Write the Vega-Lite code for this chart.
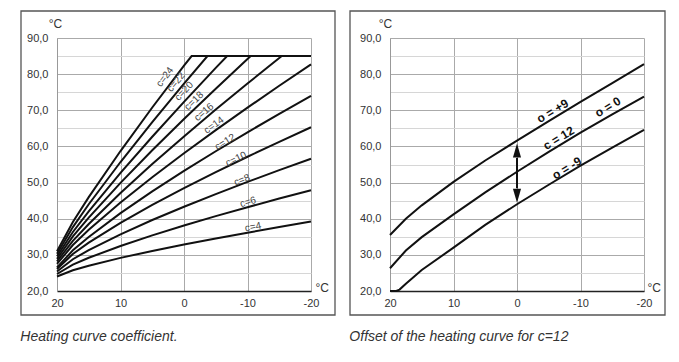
{
  "$schema": "https://vega.github.io/schema/vega-lite/v6.json",
  "padding": {"left": 20, "top": 10, "right": 5, "bottom": 5},
  "spacing": 13,
  "config": {
    "font": "Liberation Sans",
    "view": {"stroke": null},
    "axis": {"labelFont": "Liberation Sans", "titleFont": "Liberation Sans"}
  },
  "datasets": {
    "frame": [{"x1": 20, "x2": -20, "y1": 90, "y2": 20}],
    "left": [
      {"c": 4, "t": 20, "v": 24}, {"c": 4, "t": 17.5, "v": 25.75}, {"c": 4, "t": 15, "v": 27.0}, {"c": 4, "t": 10, "v": 29.16}, {"c": 4, "t": 5, "v": 31.07}, {"c": 4, "t": 0, "v": 32.85}, {"c": 4, "t": -5, "v": 34.54}, {"c": 4, "t": -10, "v": 36.14}, {"c": 4, "t": -15, "v": 37.7}, {"c": 4, "t": -20, "v": 39.2},
      {"c": 6, "t": 20, "v": 24.7}, {"c": 6, "t": 17.5, "v": 27.3}, {"c": 6, "t": 15, "v": 29.19}, {"c": 6, "t": 10, "v": 32.46}, {"c": 6, "t": 5, "v": 35.39}, {"c": 6, "t": 0, "v": 38.12}, {"c": 6, "t": -5, "v": 40.71}, {"c": 6, "t": -10, "v": 43.18}, {"c": 6, "t": -15, "v": 45.58}, {"c": 6, "t": -20, "v": 47.9},
      {"c": 8, "t": 20, "v": 25.4}, {"c": 8, "t": 17.5, "v": 28.79}, {"c": 8, "t": 15, "v": 31.31}, {"c": 8, "t": 10, "v": 35.69}, {"c": 8, "t": 5, "v": 39.64}, {"c": 8, "t": 0, "v": 43.32}, {"c": 8, "t": -5, "v": 46.82}, {"c": 8, "t": -10, "v": 50.19}, {"c": 8, "t": -15, "v": 53.44}, {"c": 8, "t": -20, "v": 56.6},
      {"c": 10, "t": 20, "v": 26.1}, {"c": 10, "t": 17.5, "v": 30.25}, {"c": 10, "t": 15, "v": 33.38}, {"c": 10, "t": 10, "v": 38.85}, {"c": 10, "t": 5, "v": 43.81}, {"c": 10, "t": 0, "v": 48.46}, {"c": 10, "t": -5, "v": 52.89}, {"c": 10, "t": -10, "v": 57.15}, {"c": 10, "t": -15, "v": 61.28}, {"c": 10, "t": -20, "v": 65.3},
      {"c": 12, "t": 20, "v": 26.5}, {"c": 12, "t": 17.5, "v": 31.25}, {"c": 12, "t": 15, "v": 34.96}, {"c": 12, "t": 10, "v": 41.53}, {"c": 12, "t": 5, "v": 47.55}, {"c": 12, "t": 0, "v": 53.22}, {"c": 12, "t": -5, "v": 58.66}, {"c": 12, "t": -10, "v": 63.91}, {"c": 12, "t": -15, "v": 69.02}, {"c": 12, "t": -20, "v": 74.0},
      {"c": 14, "t": 20, "v": 27.5}, {"c": 14, "t": 17.5, "v": 32.73}, {"c": 14, "t": 15, "v": 36.92}, {"c": 14, "t": 10, "v": 44.49}, {"c": 14, "t": 5, "v": 51.48}, {"c": 14, "t": 0, "v": 58.12}, {"c": 14, "t": -5, "v": 64.52}, {"c": 14, "t": -10, "v": 70.73}, {"c": 14, "t": -15, "v": 76.78}, {"c": 14, "t": -20, "v": 82.7},
      {"c": 16, "t": 20, "v": 28.2}, {"c": 16, "t": 17.5, "v": 33.86}, {"c": 16, "t": 15, "v": 38.55}, {"c": 16, "t": 10, "v": 47.12}, {"c": 16, "t": 5, "v": 55.12}, {"c": 16, "t": 0, "v": 62.78}, {"c": 16, "t": -5, "v": 70.19}, {"c": 16, "t": -10, "v": 77.41}, {"c": 16, "t": -15, "v": 84.47}, {"c": 16, "t": -15.4, "v": 85}, {"c": 16, "t": -20, "v": 85},
      {"c": 18, "t": 20, "v": 28.9}, {"c": 18, "t": 17.5, "v": 35.11}, {"c": 18, "t": 15, "v": 40.32}, {"c": 18, "t": 10, "v": 49.93}, {"c": 18, "t": 5, "v": 58.94}, {"c": 18, "t": 0, "v": 67.59}, {"c": 18, "t": -5, "v": 75.98}, {"c": 18, "t": -10, "v": 84.17}, {"c": 18, "t": -10.5, "v": 85}, {"c": 18, "t": -20, "v": 85},
      {"c": 20, "t": 20, "v": 29.6}, {"c": 20, "t": 17.5, "v": 36.32}, {"c": 20, "t": 15, "v": 42.04}, {"c": 20, "t": 10, "v": 52.66}, {"c": 20, "t": 5, "v": 62.68}, {"c": 20, "t": 0, "v": 72.34}, {"c": 20, "t": -5, "v": 81.73}, {"c": 20, "t": -6.8, "v": 85}, {"c": 20, "t": -20, "v": 85},
      {"c": 22, "t": 20, "v": 30.3}, {"c": 22, "t": 17.5, "v": 37.69}, {"c": 22, "t": 15, "v": 44.0}, {"c": 22, "t": 10, "v": 55.69}, {"c": 22, "t": 5, "v": 66.72}, {"c": 22, "t": 0, "v": 77.35}, {"c": 22, "t": -3.7, "v": 85}, {"c": 22, "t": -20, "v": 85},
      {"c": 24, "t": 20, "v": 31.0}, {"c": 24, "t": 17.5, "v": 39.07}, {"c": 24, "t": 15, "v": 45.96}, {"c": 24, "t": 10, "v": 58.72}, {"c": 24, "t": 5, "v": 70.77}, {"c": 24, "t": 0, "v": 82.37}, {"c": 24, "t": -1.2, "v": 85}, {"c": 24, "t": -20, "v": 85}
    ],
    "leftLabels": [
      {"c": 24, "label": "c=24", "t": 3.0, "v": 79.2},
      {"c": 22, "label": "c=22", "t": 1.26, "v": 77.8},
      {"c": 20, "label": "c=20", "t": 0.0, "v": 75.3},
      {"c": 18, "label": "c=18", "t": -1.57, "v": 72.6},
      {"c": 16, "label": "c=16", "t": -3.15, "v": 69.5},
      {"c": 14, "label": "c=14", "t": -4.72, "v": 65.9},
      {"c": 12, "label": "c=12", "t": -6.46, "v": 61.2},
      {"c": 10, "label": "c=10", "t": -8.19, "v": 56.5},
      {"c": 8, "label": "c=8", "t": -9.13, "v": 50.7},
      {"c": 6, "label": "c=6", "t": -10.08, "v": 44.6},
      {"c": 4, "label": "c=4", "t": -10.87, "v": 37.7}
    ],
    "right": [
      {"o": "+9", "t": 20, "v": 35.5}, {"o": "+9", "t": 17.5, "v": 40.0}, {"o": "+9", "t": 15, "v": 43.7}, {"o": "+9", "t": 10, "v": 50.2}, {"o": "+9", "t": 5, "v": 56.1}, {"o": "+9", "t": 0, "v": 61.6}, {"o": "+9", "t": -5, "v": 67.0}, {"o": "+9", "t": -10, "v": 72.3}, {"o": "+9", "t": -15, "v": 77.5}, {"o": "+9", "t": -20, "v": 82.8},
      {"o": "0", "t": 20, "v": 26.3}, {"o": "0", "t": 17.5, "v": 31.2}, {"o": "0", "t": 15, "v": 34.9}, {"o": "0", "t": 10, "v": 41.2}, {"o": "0", "t": 5, "v": 47.3}, {"o": "0", "t": 0, "v": 53.0}, {"o": "0", "t": -5, "v": 58.5}, {"o": "0", "t": -10, "v": 63.8}, {"o": "0", "t": -15, "v": 68.9}, {"o": "0", "t": -20, "v": 73.8},
      {"o": "-9", "t": 20, "v": 20}, {"o": "-9", "t": 19, "v": 20}, {"o": "-9", "t": 18.5, "v": 20.4}, {"o": "-9", "t": 17.5, "v": 22.0}, {"o": "-9", "t": 15, "v": 25.8}, {"o": "-9", "t": 10, "v": 32.0}, {"o": "-9", "t": 5, "v": 38.3}, {"o": "-9", "t": 0, "v": 44.0}, {"o": "-9", "t": -5, "v": 49.4}, {"o": "-9", "t": -10, "v": 54.7}, {"o": "-9", "t": -15, "v": 59.7}, {"o": "-9", "t": -20, "v": 64.6}
    ],
    "rightLabels": [
      {"label": "o = +9", "t": -5.6, "v": 69.8},
      {"label": "c = 12", "t": -6.56, "v": 62.3},
      {"label": "o = 0", "t": -14.3, "v": 70.9},
      {"label": "o = -9", "t": -7.83, "v": 54.0}
    ],
    "arrowShaft": [{"t": 0, "lo": 48.4, "hi": 56.8}],
    "arrowHeads": [{"t": 0, "v": 58.85, "dir": "up"}, {"t": 0, "v": 46.35, "dir": "down"}]
  },
  "hconcat": [
    {
      "width": 254,
      "height": 253,
      "title": {"text": "Heating curve coefficient.", "orient": "bottom", "anchor": "start", "frame": "bounds", "offset": 14, "fontSize": 14, "fontStyle": "italic", "fontWeight": "normal", "font": "Liberation Sans", "color": "#333"},
      "encoding": {
        "x": {"field": "t", "type": "quantitative", "scale": {"domain": [-20, 20], "reverse": true, "nice": false, "zero": false},
          "axis": {"values": [-20, -10, 0, 10, 20], "labelExpr": "'' + datum.value", "grid": true, "gridColor": "#aaa", "gridWidth": 1, "domain": true, "domainColor": "#222", "domainWidth": 1.5, "ticks": false, "labelPadding": 6, "labelFontSize": 11, "labelColor": "#333", "labelFlush": false, "labelOverlap": false,
            "title": "°C", "titleAngle": 0, "titleX": 258, "titleY": -4, "titleAlign": "left", "titleBaseline": "middle", "titleFontWeight": "normal", "titleFontSize": 12, "titleColor": "#333"}},
        "y": {"field": "v", "type": "quantitative", "scale": {"domain": [20, 90], "nice": false, "zero": false},
          "axis": {"values": [20, 25, 30, 35, 40, 45, 50, 55, 60, 65, 70, 75, 80, 85, 90], "labelExpr": "datum.value % 10 == 0 ? replace(format(datum.value, '.1f'), '.', ',') : ''", "grid": true, "gridColor": {"condition": {"test": "datum.value % 10 == 0", "value": "#aaa"}, "value": "#d6d6d6"}, "domain": true, "domainColor": "#999", "ticks": false, "labelPadding": 9, "labelFontSize": 11, "labelColor": "#333", "labelFlush": false, "labelOverlap": false,
            "title": "°C", "titleAngle": 0, "titleX": -2, "titleY": -15, "titleAlign": "center", "titleBaseline": "middle", "titleFontWeight": "normal", "titleFontSize": 12, "titleColor": "#333"}}
      },
      "layer": [
        {
          "data": {"name": "frame"},
          "mark": {"type": "rect", "clip": false, "fill": "transparent", "stroke": "#555", "strokeWidth": 1.3, "xOffset": -36, "x2Offset": 24, "yOffset": -27, "y2Offset": 24},
          "encoding": {"x": {"field": "x1", "type": "quantitative"}, "x2": {"field": "x2"}, "y": {"field": "y1", "type": "quantitative"}, "y2": {"field": "y2"}}
        },
        {
          "data": {"name": "left"},
          "mark": {"type": "line", "clip": false, "color": "#111", "strokeWidth": 2},
          "encoding": {"detail": {"field": "c", "type": "nominal"}}
        },
        {
          "data": {"name": "leftLabels"},
          "mark": {"type": "text", "clip": false, "fontSize": 10, "color": "#444", "align": "center", "baseline": "middle"},
          "encoding": {
            "text": {"field": "label"},
            "angle": {"field": "c", "type": "quantitative", "scale": {"domain": [4, 8, 12, 16, 20, 24], "range": [349, 339, 329, 320, 313, 307]}, "legend": null}
          }
        }
      ]
    },
    {
      "width": 254,
      "height": 253,
      "title": {"text": "Offset of the heating curve for c=12", "orient": "bottom", "anchor": "start", "frame": "bounds", "offset": 14, "fontSize": 14, "fontStyle": "italic", "fontWeight": "normal", "font": "Liberation Sans", "color": "#333"},
      "encoding": {
        "x": {"field": "t", "type": "quantitative", "scale": {"domain": [-20, 20], "reverse": true, "nice": false, "zero": false},
          "axis": {"values": [-20, -10, 0, 10, 20], "labelExpr": "'' + datum.value", "grid": true, "gridColor": "#aaa", "gridWidth": 1, "domain": true, "domainColor": "#222", "domainWidth": 1.5, "ticks": false, "labelPadding": 6, "labelFontSize": 11, "labelColor": "#333", "labelFlush": false, "labelOverlap": false,
            "title": "°C", "titleAngle": 0, "titleX": 257, "titleY": -4, "titleAlign": "left", "titleBaseline": "middle", "titleFontWeight": "normal", "titleFontSize": 12, "titleColor": "#333"}},
        "y": {"field": "v", "type": "quantitative", "scale": {"domain": [20, 90], "nice": false, "zero": false},
          "axis": {"values": [20, 25, 30, 35, 40, 45, 50, 55, 60, 65, 70, 75, 80, 85, 90], "labelExpr": "datum.value % 10 == 0 ? replace(format(datum.value, '.1f'), '.', ',') : ''", "grid": true, "gridColor": {"condition": {"test": "datum.value % 10 == 0", "value": "#aaa"}, "value": "#d6d6d6"}, "domain": true, "domainColor": "#999", "ticks": false, "labelPadding": 9, "labelFontSize": 11, "labelColor": "#333", "labelFlush": false, "labelOverlap": false,
            "title": "°C", "titleAngle": 0, "titleX": -5, "titleY": -15, "titleAlign": "center", "titleBaseline": "middle", "titleFontWeight": "normal", "titleFontSize": 12, "titleColor": "#333"}}
      },
      "layer": [
        {
          "data": {"name": "frame"},
          "mark": {"type": "rect", "clip": false, "fill": "transparent", "stroke": "#555", "strokeWidth": 1.3, "xOffset": -40, "x2Offset": 21, "yOffset": -27, "y2Offset": 24},
          "encoding": {"x": {"field": "x1", "type": "quantitative"}, "x2": {"field": "x2"}, "y": {"field": "y1", "type": "quantitative"}, "y2": {"field": "y2"}}
        },
        {
          "data": {"name": "right"},
          "mark": {"type": "line", "clip": false, "color": "#111", "strokeWidth": 2},
          "encoding": {"detail": {"field": "o", "type": "nominal"}}
        },
        {
          "data": {"name": "arrowShaft"},
          "mark": {"type": "rule", "clip": false, "color": "#111", "strokeWidth": 2},
          "encoding": {"y": {"field": "lo", "type": "quantitative"}, "y2": {"field": "hi"}}
        },
        {
          "data": {"name": "arrowHeads"},
          "mark": {"type": "point", "clip": false, "filled": true, "color": "#111", "size": 196, "opacity": 1, "strokeWidth": 0},
          "encoding": {"shape": {"field": "dir", "type": "nominal", "scale": {"domain": ["up", "down"], "range": ["M0,-1L0.58,1L-0.58,1Z", "M0,1L0.58,-1L-0.58,-1Z"]}, "legend": null}}
        },
        {
          "data": {"name": "rightLabels"},
          "mark": {"type": "text", "clip": false, "fontSize": 12, "fontWeight": "bold", "color": "#111", "align": "center", "baseline": "middle", "angle": 329},
          "encoding": {"text": {"field": "label"}}
        }
      ]
    }
  ]
}
